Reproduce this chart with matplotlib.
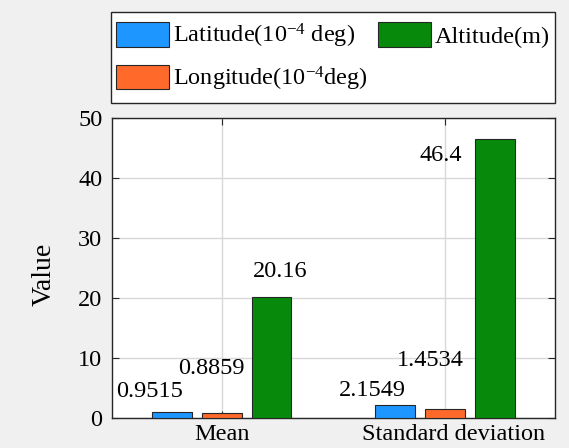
import numpy as np
import matplotlib.pyplot as plt
import matplotlib.transforms as mtransforms
from matplotlib.patches import Rectangle

plt.rcParams['font.family'] = ['Liberation Serif', 'DejaVu Serif']
plt.rcParams['mathtext.fontset'] = 'custom'
plt.rcParams['mathtext.rm'] = 'Liberation Serif'
plt.rcParams['mathtext.it'] = 'Liberation Serif:italic'

categories = ['Mean', 'Standard deviation']
series_names = ['Latitude(10$^{-4}$ deg)', 'Longitude(10$^{-4}$deg)', 'Altitude(m)']
latitude = [0.9515, 2.1549]
longitude = [0.8859, 1.4534]
altitude = [20.16, 46.4]
colors = ['#1e96ff', '#ff6a2a', '#078a0c']

# label offsets (data units) from each bar's centre/top, as placed in the original
label_dx = [[-0.10, -0.105], [-0.045, -0.065], [0.04, -0.245]]
label_dy = [[3.4, 2.4], [7.4, 8.2], [4.3, -2.6]]

fs = 17.5
fig = plt.figure(figsize=(5.69, 4.48), dpi=100, facecolor='#f0f0f0')
ax = fig.add_axes([0.197, 0.067, 0.778, 0.67])

x = np.arange(1, len(categories) + 1)
offsets = [-0.223, 0, 0.223]
width = 0.178
handles = []
for i, vals in enumerate([latitude, longitude, altitude]):
    b = ax.bar(x + offsets[i], vals, width, color=colors[i], edgecolor='#262626',
               linewidth=0.8, label=series_names[i], zorder=3)
    handles.append(b)
    for j, v in enumerate(vals):
        ax.text(x[j] + offsets[i] + label_dx[i][j], v + label_dy[i][j], str(v),
                ha='center', va='center', fontsize=fs, zorder=4)

ax.set_xlim(0.51, 2.49)
ax.set_ylim(0, 50)
ax.set_xticks(x)
ax.set_xticklabels(categories)
ax.set_yticks(np.arange(0, 51, 10))
ax.set_ylabel('Value', fontsize=20)
ax.yaxis.set_label_coords(-0.125, 0.48)
ax.tick_params(labelsize=fs, direction='in', top=True, right=True, length=5,
               color='#262626', pad=7)
ax.tick_params(axis='x', pad=4)
# second category label sits a little right of its tick in the original
lab = ax.get_xticklabels()[1]
lab.set_transform(lab.get_transform() + mtransforms.ScaledTranslation(0.08, 0, fig.dpi_scale_trans))
ax.grid(True, color='#d8d8d8', linewidth=1, zorder=0)
for s in ax.spines.values():
    s.set_color('#262626')
    s.set_linewidth(1)

# legend box outside the axes
box = (0.195, 0.77, 0.78, 0.203)
fig.add_artist(Rectangle(box[:2], box[2], box[3], transform=fig.transFigure,
                         facecolor='white', edgecolor='#262626', linewidth=1))
fig.legend(handles=handles, loc='center', bbox_to_anchor=box,
           mode='expand', ncol=2, fontsize=fs, frameon=False,
           handlelength=2.2, handleheight=1.15, handletextpad=0.15,
           labelspacing=0.6, borderaxespad=0, borderpad=0.2, columnspacing=0.5)

fig.savefig('out.png', dpi=100, facecolor=fig.get_facecolor())
